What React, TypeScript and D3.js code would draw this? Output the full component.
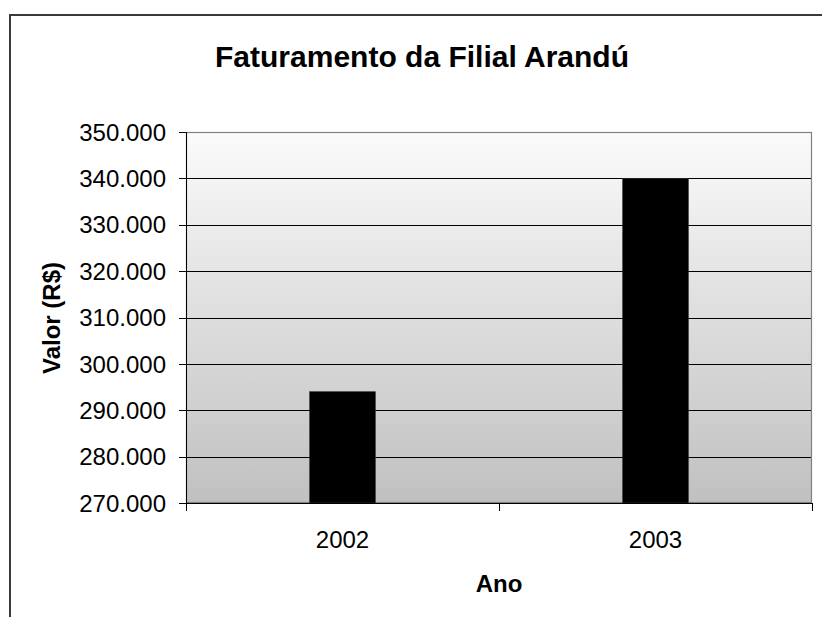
import React from "react";
import * as d3 from "d3";

const categories = ["2002", "2003"];
const values = [294000, 340000];
const yTicks = [270000, 280000, 290000, 300000, 310000, 320000, 330000, 340000, 350000];
const title = "Faturamento da Filial Arandú";
const yTitle = "Valor (R$)";
const xTitle = "Ano";

export default function App() {
  const W = 822, H = 617;
  const plot = { left: 186, right: 812, top: 132, bottom: 503 };
  const y = d3.scaleLinear().domain([270000, 350000]).range([plot.bottom, plot.top]);
  const x = d3.scaleBand().domain(categories).range([plot.left, plot.right]).paddingInner(0.79).paddingOuter(0.395);
  const band = (plot.right - plot.left) / categories.length;
  const fmt = (v: number) => d3.format(",.0f")(v / 1000).replace(/,/g, ".") + ".000";
  const font = "Liberation Sans, Arial, sans-serif";
  return (
    <svg width={W} height={H} style={{ position: "absolute", left: 0, top: 0, background: "#fff" }} fontFamily={font}>
      <defs>
        <linearGradient id="bg" x1="0" y1="0" x2="0" y2="1">
          <stop offset="0" stopColor="#fbfbfb" />
          <stop offset="1" stopColor="#c0c0c0" />
        </linearGradient>
      </defs>
      {/* outer chart border */}
      <rect x={10} y={15} width={W + 20} height={H + 20} fill="#fff" stroke="#3a3a3a" strokeWidth={2} />
      <text x={422} y={67} textAnchor="middle" fontSize={30} fontWeight="bold" fill="#000">{title}</text>
      {/* plot area */}
      <rect x={plot.left} y={plot.top} width={plot.right - plot.left} height={plot.bottom - plot.top} fill="url(#bg)" />
      {yTicks.map((t) => (
        <g key={t}>
          {t !== 270000 && t !== 350000 && (
            <line x1={plot.left} x2={plot.right} y1={Math.round(y(t)) + 0.5} y2={Math.round(y(t)) + 0.5} stroke="#000" strokeWidth={1} />
          )}
          <line x1={plot.left - 7} x2={plot.left} y1={Math.round(y(t)) + 0.5} y2={Math.round(y(t)) + 0.5} stroke="#000" />
          <text x={166} y={y(t)} dy="0.36em" textAnchor="end" fontSize={24} fill="#000">{fmt(t)}</text>
        </g>
      ))}
      <rect x={plot.left + 0.5} y={plot.top + 0.5} width={plot.right - plot.left - 1} height={plot.bottom - plot.top - 1} fill="none" stroke="#808080" strokeWidth={1.2} />
      {categories.map((c, i) => (
        <rect key={c} x={x(c)} y={y(values[i])} width={x.bandwidth()} height={plot.bottom - y(values[i])} fill="#000" stroke="#333" strokeWidth={0.6} />
      ))}
      {/* axes */}
      <line x1={plot.left + 0.5} x2={plot.left + 0.5} y1={plot.top} y2={plot.bottom} stroke="#000" />
      <line x1={plot.left} x2={plot.right} y1={plot.bottom + 0.5} y2={plot.bottom + 0.5} stroke="#000" />
      {d3.range(categories.length + 1).map((i) => (
        <line key={i} x1={Math.round(plot.left + i * band) + 0.5} x2={Math.round(plot.left + i * band) + 0.5} y1={plot.bottom} y2={plot.bottom + 8} stroke="#000" />
      ))}
      {categories.map((c) => (
        <text key={c} x={(x(c) as number) + x.bandwidth() / 2} y={548} textAnchor="middle" fontSize={24} fill="#000">{c}</text>
      ))}
      <text x={499} y={592} textAnchor="middle" fontSize={24} fontWeight="bold" fill="#000">{xTitle}</text>
      <text transform="translate(60,318) rotate(-90)" textAnchor="middle" fontSize={24} fontWeight="bold" fill="#000">{yTitle}</text>
    </svg>
  );
}
